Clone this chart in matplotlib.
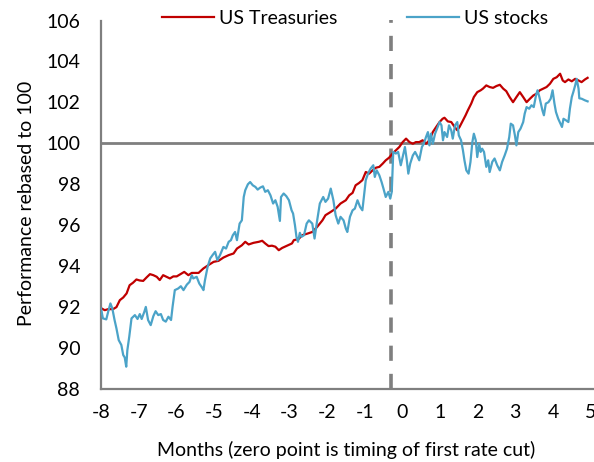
import matplotlib
matplotlib.use("Agg")
import matplotlib.pyplot as plt

# ---------------- data ----------------
tsy_x = [-7.99, -7.90, -7.81, -7.68, -7.59, -7.50, -7.41, -7.32, -7.24, -7.15, -7.06, -6.97, -6.88,
         -6.79, -6.70, -6.61, -6.52, -6.44, -6.35, -6.26, -6.17, -6.08, -5.99, -5.90, -5.79, -5.68,
         -5.59, -5.41, -5.28, -5.15, -5.01, -4.88, -4.75, -4.61, -4.48, -4.39, -4.26, -4.17, -4.08,
         -3.95, -3.81, -3.72, -3.64, -3.55, -3.46, -3.37, -3.28, -3.19, -3.06, -2.93, -2.88, -2.75,
         -2.66, -2.52, -2.39, -2.26, -2.12, -2.04, -1.90, -1.77, -1.64, -1.50, -1.41, -1.32, -1.24,
         -1.15, -1.06, -0.97, -0.88, -0.79, -0.70, -0.61, -0.52, -0.44, -0.35, -0.26, -0.17, -0.08,
         0.01, 0.10, 0.19, 0.28, 0.36, 0.45, 0.54, 0.63, 0.72, 0.81, 0.90, 0.99, 1.07, 1.12, 1.21,
         1.30, 1.39, 1.46, 1.52, 1.61, 1.68, 1.74, 1.83, 1.90, 1.99, 2.08, 2.14, 2.23, 2.32, 2.41,
         2.50, 2.59, 2.68, 2.76, 2.85, 2.94, 3.03, 3.12, 3.21, 3.30, 3.39, 3.48, 3.56, 3.65, 3.74,
         3.83, 3.92, 4.01, 4.10, 4.19, 4.26, 4.32, 4.41, 4.50, 4.59, 4.68, 4.76, 4.85, 4.92]
tsy_y = [91.94, 91.85, 91.90, 91.90, 92.00, 92.34, 92.47, 92.67, 93.07, 93.19, 93.35, 93.30, 93.28,
         93.45, 93.61, 93.56, 93.48, 93.32, 93.56, 93.48, 93.40, 93.50, 93.50, 93.60, 93.72, 93.56,
         93.67, 93.67, 93.89, 94.05, 94.21, 94.26, 94.42, 94.54, 94.62, 94.86, 95.02, 95.19, 95.06,
         95.14, 95.19, 95.24, 95.11, 94.98, 95.00, 94.95, 94.78, 94.89, 95.00, 95.11, 95.27, 95.33,
         95.51, 95.59, 95.67, 95.92, 96.24, 96.49, 96.65, 96.81, 97.06, 97.22, 97.46, 97.58, 97.95,
         98.06, 98.20, 98.60, 98.52, 98.68, 98.81, 98.85, 99.01, 99.17, 99.30, 99.50, 99.66, 99.82,
         100.06, 100.23, 100.06, 99.98, 100.06, 100.06, 100.15, 99.98, 100.15, 100.55, 100.80, 101.04,
         101.20, 101.25, 101.07, 101.04, 100.80, 100.64, 100.80, 101.12, 101.37, 101.61, 101.94,
         102.26, 102.50, 102.59, 102.67, 102.83, 102.75, 102.71, 102.80, 102.86, 102.67, 102.55,
         102.26, 102.01, 102.26, 102.50, 102.26, 102.01, 102.18, 102.34, 102.42, 102.59, 102.67,
         102.75, 102.91, 103.15, 103.23, 103.40, 103.07, 102.99, 103.12, 103.03, 103.15, 103.07,
         102.99, 103.12, 103.20]

stk_x = [-8.00, -7.95, -7.86, -7.81, -7.75, -7.70, -7.64, -7.59, -7.53, -7.46, -7.41, -7.37, -7.33,
         -7.30, -7.25, -7.19, -7.10, -7.03, -6.97, -6.92, -6.85, -6.81, -6.75, -6.68, -6.61, -6.55,
         -6.48, -6.41, -6.35, -6.28, -6.21, -6.14, -6.10, -6.04, -5.95, -5.88, -5.81, -5.72, -5.65,
         -5.59, -5.55, -5.46, -5.39, -5.32, -5.28, -5.24, -5.17, -5.10, -5.03, -4.97, -4.91, -4.84,
         -4.75, -4.68, -4.61, -4.55, -4.50, -4.44, -4.39, -4.32, -4.26, -4.21, -4.17, -4.10, -4.04,
         -3.97, -3.90, -3.84, -3.77, -3.70, -3.64, -3.57, -3.50, -3.43, -3.37, -3.31, -3.25, -3.22,
         -3.15, -3.08, -3.01, -2.94, -2.90, -2.85, -2.81, -2.77, -2.72, -2.68, -2.61, -2.54, -2.48,
         -2.39, -2.33, -2.26, -2.19, -2.10, -2.04, -1.97, -1.90, -1.83, -1.77, -1.70, -1.64, -1.56,
         -1.50, -1.46, -1.39, -1.32, -1.26, -1.19, -1.12, -1.06, -1.01, -0.97, -0.91, -0.84, -0.77,
         -0.73, -0.68, -0.61, -0.55, -0.50, -0.44, -0.37, -0.32, -0.28, -0.24, -0.17, -0.11, -0.04,
         0.03, 0.07, 0.12, 0.16, 0.21, 0.28, 0.34, 0.41, 0.45, 0.52, 0.57, 0.63, 0.68, 0.72, 0.76,
         0.81, 0.87, 0.94, 0.99, 1.04, 1.08, 1.12, 1.19, 1.24, 1.30, 1.34, 1.40, 1.46, 1.50, 1.56,
         1.61, 1.65, 1.70, 1.76, 1.81, 1.86, 1.90, 1.95, 1.99, 2.04, 2.08, 2.12, 2.17, 2.23, 2.28,
         2.32, 2.39, 2.45, 2.52, 2.59, 2.65, 2.72, 2.78, 2.84, 2.88, 2.94, 2.99, 3.03, 3.08, 3.14,
         3.21, 3.25, 3.30, 3.37, 3.43, 3.49, 3.55, 3.59, 3.64, 3.67, 3.72, 3.76, 3.81, 3.88, 3.94,
         3.99, 4.04, 4.08, 4.14, 4.20, 4.24, 4.28, 4.35, 4.41, 4.45, 4.50, 4.54, 4.59, 4.63, 4.68,
         4.70, 4.76, 4.85, 4.92]
stk_y = [91.94, 91.45, 91.40, 91.77, 92.18, 91.94, 91.37, 90.96, 90.39, 90.15, 89.66, 89.54, 89.09,
         89.90, 90.55, 91.45, 91.61, 91.42, 91.66, 91.42, 91.77, 92.01, 91.37, 91.12, 91.56, 91.80,
         91.61, 91.66, 91.37, 91.29, 91.53, 91.37, 92.01, 92.83, 92.91, 93.02, 92.83, 93.10, 93.23,
         93.56, 93.40, 93.48, 93.15, 92.96, 92.83, 93.31, 93.96, 94.38, 94.56, 94.70, 94.29, 94.54,
         94.94, 94.86, 95.19, 95.27, 95.51, 95.67, 95.27, 96.08, 96.24, 97.38, 97.71, 98.00, 98.11,
         97.95, 97.87, 97.74, 97.84, 97.90, 97.63, 97.71, 97.46, 97.06, 97.22, 96.90, 96.21, 97.38,
         97.55, 97.42, 97.22, 96.73, 96.57, 96.00, 95.43, 95.19, 95.63, 95.43, 95.51, 96.08, 96.24,
         96.08, 95.35, 96.24, 97.06, 97.38, 97.14, 97.30, 97.79, 97.22, 96.49, 96.08, 96.41, 96.24,
         95.84, 95.67, 96.41, 96.73, 96.81, 97.22, 96.89, 96.73, 97.54, 98.20, 98.52, 98.77, 98.93,
         98.36, 98.68, 98.44, 98.11, 97.79, 97.38, 97.63, 97.30, 97.63, 99.58, 99.50, 99.58, 98.93,
         99.50, 99.82, 99.17, 98.52, 99.01, 99.41, 99.58, 99.33, 99.17, 99.82, 99.98, 100.31, 100.55,
         99.90, 100.47, 99.98, 100.47, 100.80, 101.04, 100.88, 100.15, 100.55, 100.31, 100.88,
         100.63, 100.23, 100.88, 101.04, 100.39, 100.15, 99.66, 99.17, 98.68, 98.52, 99.09, 100.06,
         100.47, 100.15, 99.33, 99.98, 99.58, 99.74, 99.58, 98.85, 99.17, 98.60, 99.10, 99.26, 98.93,
         98.68, 99.09, 99.42, 99.74, 100.31, 100.96, 100.88, 100.39, 99.90, 100.55, 100.72, 101.04,
         101.45, 101.77, 101.69, 101.86, 101.77, 102.34, 102.59, 102.26, 102.01, 101.61, 101.37,
         101.94, 102.01, 102.18, 102.59, 101.94, 101.53, 101.20, 100.96, 100.80, 101.20, 101.12,
         101.04, 101.69, 102.26, 102.50, 102.83, 103.15, 102.67, 102.20, 102.18, 102.10, 102.05]

x_ticks = [-8, -7, -6, -5, -4, -3, -2, -1, 0, 1, 2, 3, 4, 5]
y_ticks = [88, 90, 92, 94, 96, 98, 100, 102, 104, 106]
cut_x = -0.30
base_y = 100

series_names = ["US Treasuries", "US stocks"]
series_colors = ["#C00000", "#4BA3C8"]

# ---------------- plot ----------------
plt.rcParams['font.family'] = ['Lato', 'DejaVu Sans']
FS = 14
W, H = 594, 462
fig = plt.figure(figsize=(W / 100, H / 100), dpi=100)
ax = fig.add_axes([101 / W, (H - 389) / H, 1 - 101 / W, (389 - 20.5) / H])

grey = "#7F7F7F"
ax.axhline(base_y, color=grey, lw=2.0, zorder=1)
ax.axvline(cut_x, color=grey, lw=2.6, dashes=(4.2, 3.6), zorder=1)

ax.plot(tsy_x, tsy_y, color=series_colors[0], lw=1.6, label=series_names[0], zorder=3)
ax.plot(stk_x, stk_y, color=series_colors[1], lw=1.6, label=series_names[1], zorder=4)

ax.set_xlim(-8, 5.09)
ax.set_ylim(88, 106)
ax.set_xticks(x_ticks)
ax.set_xticklabels([str(t) for t in x_ticks])
ax.set_yticks(y_ticks)
ax.tick_params(axis='both', length=0, labelsize=FS, colors="#000000")
ax.tick_params(axis='y', pad=15)
ax.tick_params(axis='x', pad=11)

for s in ["top", "right"]:
    ax.spines[s].set_visible(False)
for s in ["left", "bottom"]:
    ax.spines[s].set_color(grey)
    ax.spines[s].set_linewidth(1.6)

fig.text(346 / W, 1 - 450 / H, "Months (zero point is timing of first rate cut)",
         ha='center', va='center', fontsize=FS)
fig.text(27 / W, 1 - 203 / H, "Performance rebased to 100", rotation=90,
         ha='center', va='center', fontsize=FS)

leg = fig.legend(loc='center left', bbox_to_anchor=(162 / W, 1 - 18 / H), ncol=2,
                 frameon=False, fontsize=FS, handlelength=2.65, handletextpad=0.28,
                 columnspacing=3.6, borderpad=0, borderaxespad=0)

fig.savefig("out.png", dpi=100)
